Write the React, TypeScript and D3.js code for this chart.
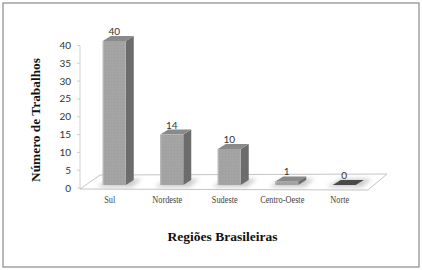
import React from "react";
import * as d3 from "d3";

const categories = ["Sul", "Nordeste", "Sudeste", "Centro-Oeste", "Norte"];
const values = [40, 14, 10, 1, 0];
const yTicks = [0, 5, 10, 15, 20, 25, 30, 35, 40];
const xTitle = "Regiões Brasileiras";
const yTitle = "Número de Trabalhos";

const W = 422;
const H = 270;

export default function App() {
  const x = d3.scaleBand<string>().domain(categories).range([85.5, 373]).paddingInner(0.6).paddingOuter(0.3);
  const yAxis = d3.scaleLinear().domain([0, 40]).range([188, 45.5]);
  const yBar = d3.scaleLinear().domain([0, 40]).range([185, 41]);
  const dx = 8;
  const dy = -5;
  const bw = x.bandwidth();
  const serif = "'Liberation Serif', 'Times New Roman', serif";
  const sans = "Lato, 'Open Sans', sans-serif";

  const fl = { x0: 80, y0: 189, x1: 368, y1: 190, bx0: 100, by0: 175, bx1: 387, by1: 174 };

  return (
    <svg width={W} height={H} style={{ position: "absolute", left: 0, top: 0, background: "#fff" }}>
      <defs>
        <filter id="blur" x="-50%" y="-50%" width="200%" height="200%">
          <feGaussianBlur stdDeviation="2.2" />
        </filter>
        <pattern id="tex" width="3" height="3" patternUnits="userSpaceOnUse">
          <rect width="3" height="3" fill="#a4a4a4" />
          <rect width="1" height="1" fill="#9c9c9c" />
        </pattern>
      </defs>
      <rect x={3} y={3} width={416} height={264} fill="#fff" stroke="#8a8a8a" strokeWidth={1.2} />
      <polygon
        points={`${fl.x0},${fl.y0} ${fl.x1},${fl.y1} ${fl.bx1},${fl.by1} ${fl.bx0},${fl.by0}`}
        fill="#fff"
        stroke="#b5b5b5"
        strokeWidth={0.8}
      />
      <line x1={80} x2={80} y1={yAxis(40)} y2={yAxis(0) + 1} stroke="#c4c4c4" strokeWidth={0.8} />
      {yTicks.map((t) => (
        <g key={t}>
          <line x1={77} x2={80} y1={yAxis(t)} y2={yAxis(t)} stroke="#c4c4c4" strokeWidth={0.8} />
          <text x={71} y={yAxis(t) + 3.5} textAnchor="end" fontSize={10} fontFamily={sans} fill="#333">
            {t}
          </text>
        </g>
      ))}
      {categories.map((c, i) => {
        const v = values[i];
        const x0 = x(c)!;
        const x1 = x0 + bw;
        const yt = yBar(v);
        const yb = yBar(0);
        const dark = v === 0;
        const front = dark ? "#3a3a3a" : "url(#tex)";
        const side = dark ? "#2e2e2e" : "#6c6c6c";
        const top = dark ? "#4a4a4a" : "#8a8a8a";
        const lx = x0 + bw / 2 - 4.5;
        return (
          <g key={c}>
            <polygon
              points={`${x0 - 6},${yb + 2} ${x1 + 6},${yb + 2} ${x1 + dx + 8},${yb + dy - 1} ${x0 + dx},${yb + dy - 1}`}
              fill="#bdbdbd"
              filter="url(#blur)"
              opacity={0.8}
            />
            <polygon
              points={`${x1},${yt} ${x1 + dx},${yt + dy} ${x1 + dx},${yb + dy} ${x1},${yb}`}
              fill={side}
            />
            <polygon
              points={`${x0},${yt} ${x1},${yt} ${x1 + dx},${yt + dy} ${x0 + dx},${yt + dy}`}
              fill={top}
            />
            {v > 0 && <rect x={x0} y={yt} width={bw} height={yb - yt} fill={front} />}
            {v > 0 && <rect x={x0} y={yt} width={1.2} height={yb - yt} fill="#b8b8b8" />}
            <text x={x0 + bw / 2} y={yt - 6} textAnchor="middle" fontSize={10} fontFamily={sans} fill="#333">
              {v}
            </text>
            <text
              transform={`translate(${lx},203) scale(0.83,1)`}
              textAnchor="middle"
              fontSize={10}
              fontFamily={serif}
              fill="#444"
            >
              {c}
            </text>
          </g>
        );
      })}
      <text x={222.5} y={241} textAnchor="middle" fontSize={13.5} fontWeight="bold" fontFamily={serif} fill="#111">
        {xTitle}
      </text>
      <text
        transform={`translate(39.5,120) rotate(-90)`}
        textAnchor="middle"
        fontSize={13.5}
        fontWeight="bold"
        fontFamily={serif}
        fill="#111"
        textLength={124}
        lengthAdjust="spacingAndGlyphs"
      >
        {yTitle}
      </text>
    </svg>
  );
}
